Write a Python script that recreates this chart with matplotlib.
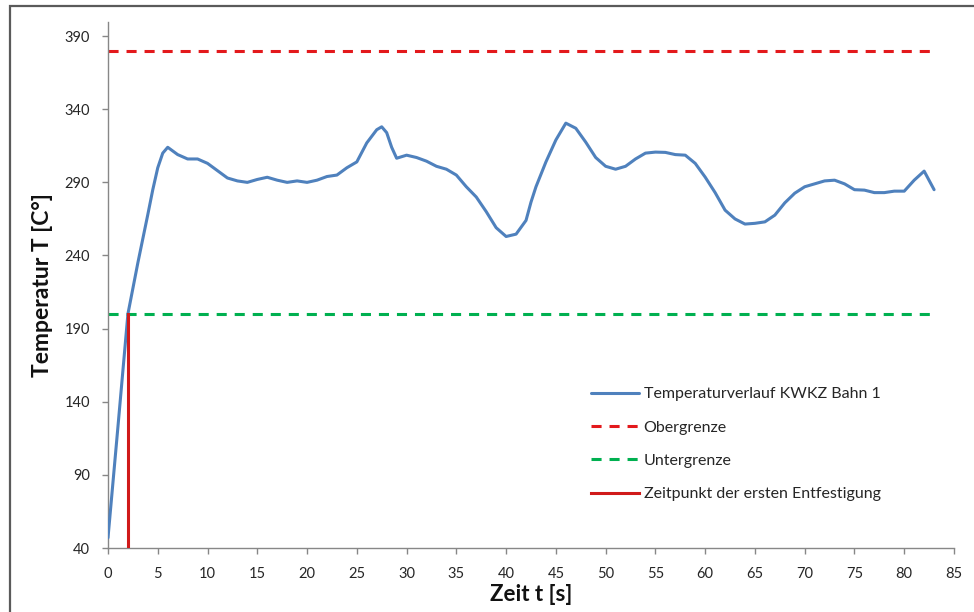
import matplotlib
matplotlib.use("Agg")
import matplotlib.pyplot as plt
from matplotlib.patches import Rectangle

plt.rcParams['font.family'] = ['Lato', 'DejaVu Sans']

# Temperature curve of KWKZ track 1
zeit = [0, 1, 2, 3, 4, 4.5, 5, 5.5, 6, 7, 8, 9, 10, 11, 12, 13, 14, 15, 16, 17,
        18, 19, 20, 21, 22, 23, 24, 25, 26, 27, 27.5, 28, 28.5, 29, 30, 31, 32,
        33, 34, 35, 36, 37, 38, 39, 40, 41, 42, 42.5, 43, 44, 45, 46, 47, 48,
        49, 50, 51, 52, 53, 54, 55, 56, 57, 58, 59, 60, 61, 62, 63, 64, 65, 66,
        67, 68, 69, 70, 71, 72, 73, 74, 75, 76, 77, 78, 79, 80, 81, 82, 83]
temperatur = [47, 123, 200, 235, 268, 285, 300, 310, 314, 309, 306, 306, 303,
              298, 293, 291, 290, 292, 293.5, 291.5, 290, 291, 290, 291.5, 294,
              295, 300, 304, 317, 326, 328, 324, 314, 306.5, 308.6, 307, 304.5,
              301, 299, 295, 287, 280, 270, 259, 253, 254.6, 264, 276.5, 287,
              304, 319, 330.5, 327, 317.5, 307, 301, 299, 301, 306, 310, 310.7,
              310.5, 309, 308.6, 303, 293.6, 283, 271, 265, 261.5, 262, 263,
              267.6, 276, 282.6, 287, 289, 291, 291.5, 289, 285, 284.7, 283,
              283, 284, 284, 291.5, 297.7, 285]

obergrenze = 380
untergrenze = 200
grenze_t = [0, 83]
entfestigung_t = 2

x_ticks = list(range(0, 86, 5))
y_ticks = list(range(40, 391, 50))

fig = plt.figure(figsize=(9.74, 6.12), dpi=100)
ax = fig.add_axes([108/974, 1 - 548/612, (954 - 108)/974, (548 - 21.5)/612])

ax.plot(zeit, temperatur, color='#4F81BD', lw=2.2, solid_capstyle='round',
        solid_joinstyle='round', label='Temperaturverlauf KWKZ Bahn 1', zorder=3)
ax.plot(grenze_t, [obergrenze, obergrenze], color='#E3191C', lw=2.2,
        dashes=(3.3, 2.6), label='Obergrenze', zorder=2)
ax.plot(grenze_t, [untergrenze, untergrenze], color='#00B050', lw=2.2,
        dashes=(3.3, 2.6), label='Untergrenze', zorder=2)
ax.plot([entfestigung_t, entfestigung_t], [40, untergrenze], color='#D01A1A',
        lw=2.2, label='Zeitpunkt der ersten Entfestigung', zorder=4)

ax.set_xlim(0, 85)
ax.set_ylim(40, 400)
ax.set_xticks(x_ticks)
ax.set_yticks(y_ticks)

for s in ['top', 'right']:
    ax.spines[s].set_visible(False)
for s in ['left', 'bottom']:
    ax.spines[s].set_color('#878787')
    ax.spines[s].set_linewidth(1.0)

ax.tick_params(axis='both', colors='#878787', labelcolor='#262626',
               labelsize=10.5, length=4, width=1.0, direction='out')
ax.tick_params(axis='y', pad=9)
ax.tick_params(axis='x', pad=10)

ax.set_xlabel('Zeit t [s]', fontsize=16, fontweight='bold', color='#111111', labelpad=2)
ax.set_ylabel('Temperatur T [C°]', fontsize=16.5, fontweight='bold', color='#111111', labelpad=8)

leg = ax.legend(loc='upper left', bbox_to_anchor=(591/974, 1 - 387/612),
                bbox_transform=fig.transFigure, frameon=False, fontsize=11.5,
                handlelength=3.0, handletextpad=0.3, labelspacing=1.2,
                borderpad=0, borderaxespad=0)
for t in leg.get_texts():
    t.set_color('#262626')

# Outer chart border
fig.patches.append(Rectangle((9.5/974, -0.05), 1.2, 1 - 5.5/612 + 0.05,
                             transform=fig.transFigure, fill=False,
                             edgecolor='#5A5A5A', lw=1.6))

fig.savefig('out.png', dpi=100)
